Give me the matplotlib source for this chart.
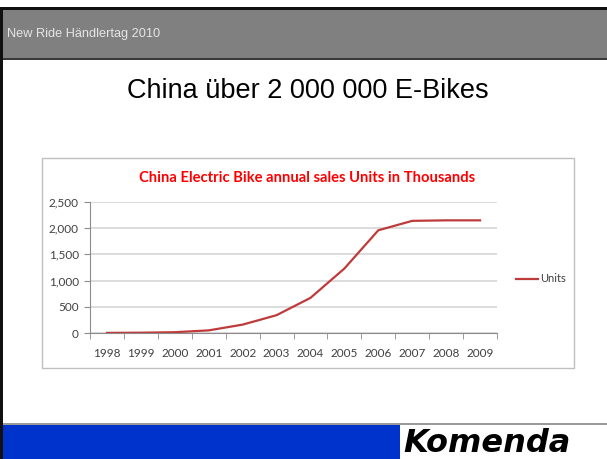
import matplotlib
matplotlib.use("Agg")
import matplotlib.pyplot as plt
from matplotlib.patches import Rectangle

W, H = 607, 459

years = ["1998", "1999", "2000", "2001", "2002", "2003",
         "2004", "2005", "2006", "2007", "2008", "2009"]
units = [2, 6, 15, 50, 160, 340, 670, 1230, 1960, 2140, 2150, 2150]
y_ticks = [0, 500, 1000, 1500, 2000, 2500]

header_text = "New Ride Händlertag 2010"
slide_title = "China über 2 000 000 E-Bikes"
chart_title = "China Electric Bike annual sales Units in Thousands"
series_name = "Units"
logo_text = "Komenda"

LINE_COLOR = "#BF3B3B"
GRID_COLOR = "#D9D9D9"
AXIS_COLOR = "#8C8C8C"
LABEL_COLOR = "#404040"


def box(x0, y0, x1, y1):
    # pixel box (top-left origin) -> figure fraction rect
    return [x0 / W, 1 - y1 / H, (x1 - x0) / W, (y1 - y0) / H]


fig = plt.figure(figsize=(W / 100, H / 100), dpi=100)
fig.patch.set_facecolor("white")

# slide background drawn in pixel coordinates
bg = fig.add_axes([0, 0, 1, 1])
bg.set_xlim(0, W)
bg.set_ylim(H, 0)
bg.axis("off")

bg.add_patch(Rectangle((0, 7), W, 3, color="#111111", lw=0))
bg.add_patch(Rectangle((0, 10), W, 48, color="#808080", lw=0))
bg.add_patch(Rectangle((0, 58), W, 2, color="#3a3a3a", lw=0))
bg.add_patch(Rectangle((0, 7), 3, H - 7, color="#111111", lw=0))
bg.text(7, 34, header_text, fontsize=9.2, color="#E6E6E6",
        family="Liberation Sans", va="center", ha="left")

bg.text(308, 91, slide_title, fontsize=19.5, color="black",
        family="Liberation Sans", va="center", ha="center")

# chart frame
bg.add_patch(Rectangle((42, 158), 532, 210, facecolor="white",
                       edgecolor="#BFBFBF", lw=1))
bg.text(307, 178, chart_title, fontsize=10.6, color="#FF0000",
        family="Lato", fontweight="bold", va="center", ha="center")

# footer
bg.add_patch(Rectangle((3, 423), W, 1.5, color="#9a9a9a", lw=0))
bg.add_patch(Rectangle((3, 425), 397, H - 425, color="#0033CC", lw=0))
bg.text(403, 458.5, logo_text, fontsize=23, color="black",
        family="DejaVu Sans", fontweight="bold", fontstyle="italic",
        va="bottom", ha="left")

# chart plot area
ax = fig.add_axes(box(90, 202, 497, 333))
x = list(range(len(years)))
ax.plot(x, units, color=LINE_COLOR, lw=1.6, label=series_name,
        solid_joinstyle="round")
ax.set_xlim(-0.5, len(years) - 0.5)
ax.set_ylim(0, 2500)
ax.set_yticks(y_ticks)
ax.set_yticklabels([f"{v:,}" for v in y_ticks])
ax.set_xticks(x)
ax.set_xticklabels(years)
ax.set_xticks([i - 0.5 for i in range(len(years) + 1)], minor=True)
ax.tick_params(axis="x", which="major", length=0, pad=11,
               labelsize=8.5, labelcolor=LABEL_COLOR)
ax.tick_params(axis="x", which="minor", length=4, color=AXIS_COLOR,
               direction="out")
ax.tick_params(axis="y", length=4, color=AXIS_COLOR, pad=4,
               labelsize=8.5, labelcolor=LABEL_COLOR)
for lab in ax.get_xticklabels() + ax.get_yticklabels():
    lab.set_family("Lato")
ax.grid(axis="y", color=GRID_COLOR, lw=1.3)
ax.set_axisbelow(True)
for side in ["top", "right"]:
    ax.spines[side].set_visible(False)
ax.spines["left"].set_color(AXIS_COLOR)
ax.spines["bottom"].set_color(AXIS_COLOR)
ax.patch.set_alpha(0)

leg = ax.legend(loc="center left", bbox_to_anchor=(506 / W, 1 - 279 / H),
                bbox_transform=fig.transFigure, frameon=False,
                handlelength=2.0, handletextpad=0.15,
                prop={"family": "Lato", "size": 8})
for t in leg.get_texts():
    t.set_color(LABEL_COLOR)

fig.savefig("out.png", dpi=100)
